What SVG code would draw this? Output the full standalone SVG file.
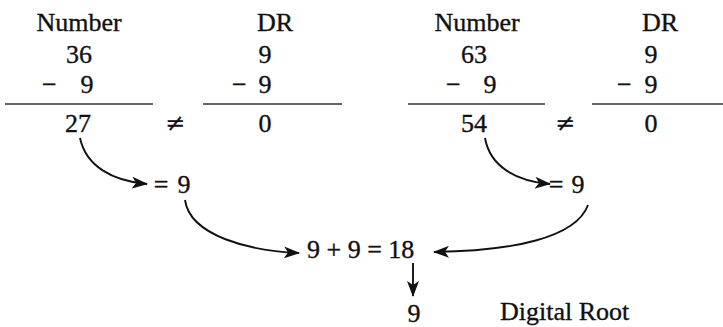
<svg xmlns="http://www.w3.org/2000/svg" width="723" height="327" viewBox="0 0 723 327">
<style>
text{font-family:"Liberation Serif","Times New Roman",serif;font-size:26px;fill:#111;stroke:#111;stroke-width:0.35}
.m{text-anchor:middle}
.ne{font-family:"DejaVu Serif",serif;font-size:24px;stroke-width:0.2}
.rule{stroke:#333;stroke-width:1.4}
.conn{fill:none;stroke:#111;stroke-width:1.9}
</style>
<defs>
<marker id="ah" viewBox="0 0 16 12" refX="15" refY="6" markerWidth="16" markerHeight="12" markerUnits="userSpaceOnUse" orient="auto">
<path d="M0,0 L16,6 L0,12 L4,6 Z" fill="#111"/>
</marker>
</defs>
<g id="left-number">
<text class="m" x="79" y="31">Number</text>
<text class="m" x="79" y="63">36</text>
<text x="42" y="93">−</text>
<text class="m" x="87" y="93">9</text>
<line class="rule" x1="5" y1="104" x2="153" y2="104"/>
<text class="m" x="78" y="132">27</text>
</g>
<g id="left-neq"><text class="m ne" x="175" y="131">≠</text></g>
<g id="left-dr">
<text class="m" x="275" y="31">DR</text>
<text class="m" x="265" y="63">9</text>
<text x="232" y="93">−</text>
<text class="m" x="265" y="93">9</text>
<line class="rule" x1="203" y1="104" x2="342" y2="104"/>
<text class="m" x="265" y="132">0</text>
</g>
<g id="right-number">
<text class="m" x="477" y="31">Number</text>
<text class="m" x="474" y="63">63</text>
<text x="446" y="93">−</text>
<text class="m" x="490" y="93">9</text>
<line class="rule" x1="408" y1="104" x2="545" y2="104"/>
<text class="m" x="474" y="132">54</text>
</g>
<g id="right-neq"><text class="m ne" x="565" y="131">≠</text></g>
<g id="right-dr">
<text class="m" x="660" y="31">DR</text>
<text class="m" x="651" y="63">9</text>
<text x="617" y="93">−</text>
<text class="m" x="651" y="93">9</text>
<line class="rule" x1="592" y1="104" x2="723" y2="104"/>
<text class="m" x="651" y="132">0</text>
</g>
<g id="left-result">
<text class="m" x="161" y="193">=</text>
<text class="m" x="184" y="193">9</text>
</g>
<g id="right-result">
<text class="m" x="556" y="193">=</text>
<text class="m" x="578" y="193">9</text>
</g>
<g id="sum"><text x="307" y="258">9 + 9 = 18</text></g>
<g id="final">
<text class="m" x="414" y="322">9</text>
<text x="500" y="320">Digital Root</text>
</g>
<g id="connectors">
<path class="conn" d="M80,138 C86,166 112,181 147,184" marker-end="url(#ah)"/>
<path class="conn" d="M485,138 C490,166 515,181 550,184" marker-end="url(#ah)"/>
<path class="conn" d="M185,200 C190,236 250,251 299,253" marker-end="url(#ah)"/>
<path class="conn" d="M588,205 C576,238 512,251 434,252" marker-end="url(#ah)"/>
<path class="conn" d="M413,263 L413,296" marker-end="url(#ah)"/>
</g>
</svg>
